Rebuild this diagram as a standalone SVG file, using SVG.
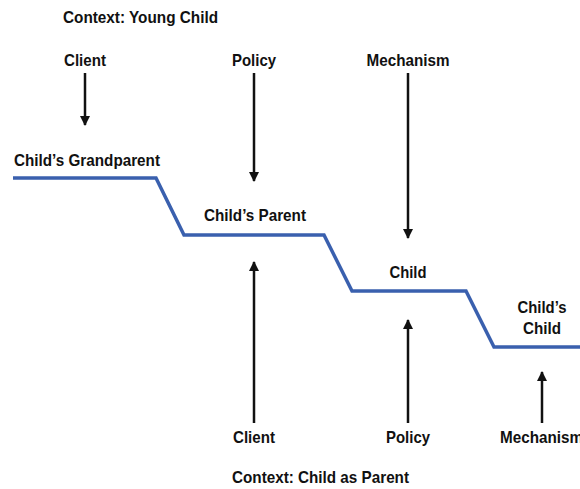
<svg xmlns="http://www.w3.org/2000/svg" width="580" height="489" viewBox="0 0 580 489">
  <defs>
    <style>
      text { font-family: "Liberation Sans Narrow", "Liberation Sans", Arial, sans-serif; font-weight: bold; font-size: 16.5px; fill: #111; }
      .mid { text-anchor: middle; }
      .arrow { stroke: #111; stroke-width: 2.5; fill: none; marker-end: url(#head); }
      .step { stroke: #3a60ae; stroke-width: 3.5; fill: none; stroke-linejoin: miter; }
    </style>
    <marker id="head" viewBox="0 0 10 10" refX="9" refY="5" markerWidth="5" markerHeight="4" markerUnits="strokeWidth" orient="auto">
      <path d="M0,0 L10,5 L0,10 Z" fill="#111"/>
    </marker>
  </defs>

  <!-- headings -->
  <text x="63" y="23" textLength="155" lengthAdjust="spacingAndGlyphs">Context: Young Child</text>
  <text x="232" y="483" textLength="177" lengthAdjust="spacingAndGlyphs">Context: Child as Parent</text>

  <!-- hierarchy levels -->
  <g id="level-grandparent"><text x="14" y="166" textLength="146" lengthAdjust="spacingAndGlyphs">Child’s Grandparent</text></g>
  <g id="level-parent"><text class="mid" x="255" y="221" textLength="102" lengthAdjust="spacingAndGlyphs">Child’s Parent</text></g>
  <g id="level-child"><text class="mid" x="408" y="278" textLength="37" lengthAdjust="spacingAndGlyphs">Child</text></g>
  <g id="level-childs-child">
    <text class="mid" x="542" y="313" textLength="49" lengthAdjust="spacingAndGlyphs">Child’s</text>
    <text class="mid" x="542" y="334" textLength="38" lengthAdjust="spacingAndGlyphs">Child</text>
  </g>

  <!-- roles in the young-child context -->
  <g id="top-client"><text class="mid" x="85" y="66" textLength="42" lengthAdjust="spacingAndGlyphs">Client</text></g>
  <g id="top-policy"><text class="mid" x="254" y="66" textLength="44" lengthAdjust="spacingAndGlyphs">Policy</text></g>
  <g id="top-mechanism"><text class="mid" x="408" y="66" textLength="83" lengthAdjust="spacingAndGlyphs">Mechanism</text></g>

  <!-- roles in the child-as-parent context -->
  <g id="bottom-client"><text class="mid" x="254" y="443" textLength="42" lengthAdjust="spacingAndGlyphs">Client</text></g>
  <g id="bottom-policy"><text class="mid" x="408" y="443" textLength="44" lengthAdjust="spacingAndGlyphs">Policy</text></g>
  <g id="bottom-mechanism"><text x="500" y="443" textLength="83" lengthAdjust="spacingAndGlyphs">Mechanism</text></g>

  <g id="connectors">
    <polyline class="step" points="13,178 156,178 184,235 324,235 352,291 466,291 494,347 580,347"/>
    <line class="arrow" x1="85" y1="73" x2="85" y2="125"/>
    <line class="arrow" x1="254" y1="73" x2="254" y2="181"/>
    <line class="arrow" x1="408" y1="73" x2="408" y2="238"/>
    <line class="arrow" x1="254" y1="423" x2="254" y2="262"/>
    <line class="arrow" x1="408" y1="423" x2="408" y2="320"/>
    <line class="arrow" x1="542" y1="423" x2="542" y2="372"/>
  </g>
</svg>
